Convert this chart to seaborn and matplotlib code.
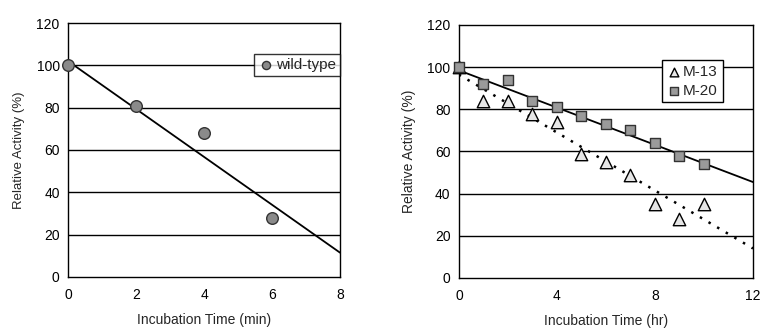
import matplotlib
matplotlib.use("Agg")
import matplotlib.pyplot as plt
import seaborn as sns
import pandas as pd
from matplotlib.ticker import MultipleLocator

sns.set_style("white")
plt.rcParams['font.family'] = ['Liberation Sans', 'DejaVu Sans']

# Left panel data
wt_time = [0, 2, 4, 6]
wt_activity = [100, 81, 68, 28]
wt_fit_x = [0, 8]
wt_fit_y = [102, 11.5]

# Right panel data
m_time = [0, 1, 2, 3, 4, 5, 6, 7, 8, 9, 10]
m13_activity = [100, 84, 84, 78, 74, 59, 55, 49, 35, 28, 35]
m20_activity = [100, 92, 94, 84, 81, 77, 73, 70, 64, 58, 54]
m13_fit_x = [0, 12]
m13_fit_y = [96.5, 14]
m20_fit_x = [0, 12]
m20_fit_y = [98.5, 45.5]

fig = plt.figure(figsize=(7.61, 3.32), dpi=100)
ax1 = fig.add_axes([0.0894, 0.1657, 0.3574, 0.765])
ax2 = fig.add_axes([0.603, 0.1627, 0.3865, 0.762])

fs = 10
for ax in (ax1, ax2):
    for y in range(20, 120, 20):
        ax.axhline(y, color='black', lw=1.0, zorder=1)
    for s in ax.spines.values():
        s.set_color('black')
        s.set_linewidth(1.0)
    ax.set_ylim(0, 120)
    ax.set_yticks(range(0, 121, 20))
    ax.tick_params(axis='both', labelsize=fs, colors='black', length=0, pad=6)

# Left
sns.lineplot(x=wt_fit_x, y=wt_fit_y, ax=ax1, color='black', lw=1.3, zorder=2)
sns.scatterplot(x=wt_time, y=wt_activity, ax=ax1, marker='o', s=70,
                color='#8a8a8a', edgecolor='#333333', linewidth=1.0, zorder=3,
                label='wild-type', clip_on=False)
ax1.set_xlim(0, 8)
ax1.set_xticks(range(0, 9, 2))
ax1.tick_params(axis='x', direction='in', length=4, width=1, pad=8)
ax1.set_xlabel('Incubation Time (min)', fontsize=fs, labelpad=8)
ax1.set_ylabel('Relative Activity (%)', fontsize=fs - 0.5, labelpad=8)
leg1 = ax1.legend(loc='upper right', bbox_to_anchor=(1.0, 0.878), fontsize=fs + 1,
                  frameon=True, fancybox=False, handletextpad=0.2,
                  handlelength=1.0, borderpad=0.25, borderaxespad=0,
                  markerscale=0.7)
leg1.get_frame().set_edgecolor('black')
leg1.get_frame().set_linewidth(1.0)

# Right
sns.lineplot(x=m20_fit_x, y=m20_fit_y, ax=ax2, color='black', lw=1.3, zorder=2)
sns.lineplot(x=m13_fit_x, y=m13_fit_y, ax=ax2, color='black', lw=1.8,
             linestyle=(0, (1, 3)), zorder=2)
sns.scatterplot(x=m_time, y=m13_activity, ax=ax2, marker='^', s=80,
                color='#e6e6e6', edgecolor='black', linewidth=1.0, zorder=3,
                label='M-13', clip_on=False)
sns.scatterplot(x=m_time, y=m20_activity, ax=ax2, marker='s', s=55,
                color='#9a9a9a', edgecolor='#333333', linewidth=1.0, zorder=3,
                label='M-20', clip_on=False)
ax2.set_xlim(0, 12)
ax2.set_xticks(range(0, 13, 4))
ax2.xaxis.set_minor_locator(MultipleLocator(1))
ax2.tick_params(axis='x', which='both', direction='in', length=4, width=1, pad=8)
ax2.set_xlabel('Incubation Time (hr)', fontsize=fs, labelpad=8)
ax2.set_ylabel('Relative Activity (%)', fontsize=fs, labelpad=8)
leg2 = ax2.legend(loc='upper left', bbox_to_anchor=(0.69, 0.86), fontsize=fs + 1,
                  frameon=True, fancybox=False, handletextpad=0.1,
                  handlelength=1.0, borderpad=0.3, borderaxespad=0,
                  labelspacing=0.3, markerscale=0.7)
leg2.get_frame().set_edgecolor('black')
leg2.get_frame().set_linewidth(1.0)
leg2.get_frame().set_alpha(1)

fig.savefig('out.png', dpi=100)
